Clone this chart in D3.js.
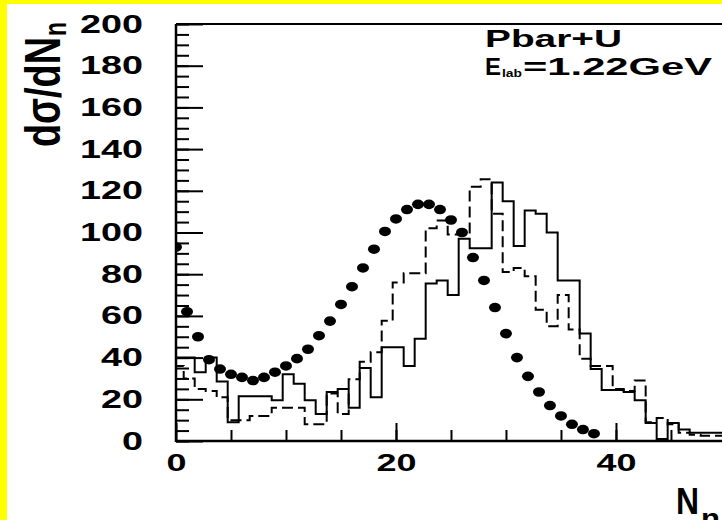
<!DOCTYPE html>
<html>
<head>
<meta charset="utf-8">
<script src="https://cdn.jsdelivr.net/npm/d3@7/dist/d3.min.js"></script>
<style>
body { margin: 0; background: #ffffff; }
svg { display: block; }
text { font-family: "Liberation Sans", Arial, sans-serif; font-weight: bold; fill: #000; }
</style>
</head>
<body>
<svg id="chart" width="722" height="520"></svg>
<script>
// measured points (filled circles), N = 0..38
var dotN = [0, 1, 2, 3, 4, 5, 6, 7, 8, 9, 10, 11, 12, 13, 14, 15, 16, 17, 18, 19,
            20, 21, 22, 23, 24, 25, 26, 27, 28, 29, 30, 31, 32, 33, 34, 35, 36, 37, 38];
var dotValues = [93, 62, 50, 39, 34.5, 32, 30.5, 29, 30.5, 33, 36, 39.5, 44, 50.5, 57.5, 65.5, 74, 83, 92, 100.5,
                 106.5, 111, 113.5, 113.5, 111, 106, 100, 88, 77, 64, 51.5, 40, 31, 23.5, 17, 12, 8, 5.5, 3.5];

// histogram bins
var binN = [0, 1, 2, 3, 4, 5, 6, 7, 8, 9, 10, 11, 12, 13, 14, 15, 16, 17, 18, 19,
            20, 21, 22, 23, 24, 25, 26, 27, 28, 29, 30, 31, 32, 33, 34, 35, 36, 37, 38, 39,
            40, 41, 42, 43, 44, 45, 46, 47, 48, 49];
var solidValues = [40, 40, 33, 40, 28.5, 9, 21.5, 21.5, 21.5, 19.5, 32, 27.5, 19.5, 13, 23.5, 25, 16, 35, 21, 45,
                   45, 36, 49, 75.5, 77, 70, 97, 92.5, 92.5, 124, 115, 93.5, 110.5, 109, 100, 77, 77, 51.5, 34.5, 24.5,
                   24.5, 23.5, 19.5, 8.6, 1, 8.6, 5.5, 4, 4, 4];
var dashedValues = [36, 30, 25, 24, 21, 10, 10, 12, 12, 16, 16, 16, 8, 8, 22.8, 13, 29.6, 38, 42.6, 57.7,
                    76, 80.5, 80.5, 102, 105.7, 99, 99, 122, 125.5, 109, 81, 83, 79, 63, 55, 70, 53.5, 39.5, 36, 36,
                    25, 24, 29, 9, 11, 8, 4, 3, 2.5, 2.5];

var yMajorTicks = [0, 20, 40, 60, 80, 100, 120, 140, 160, 180, 200];
var xMajorTicks = [0, 20, 40];

var svg = d3.select("#chart");

// yellow frame round the picture
svg.append("rect").attr("x", 0).attr("y", 0).attr("width", 722).attr("height", 520).attr("fill", "#ffff00");
svg.append("rect").attr("x", 7).attr("y", 4).attr("width", 715).attr("height", 516).attr("fill", "#ffffff");

var plotLeft = 176, plotRight = 722, plotTop = 24, plotBottom = 441;

var x = d3.scaleLinear().domain([0, 49.64]).range([plotLeft, plotRight]);
var y = d3.scaleLinear().domain([0, 200]).range([plotBottom, plotTop]);

// histogram bin k covers [k - 0.3, k + 0.7]
var binLowShift = -0.3;

svg.append("clipPath").attr("id", "plotclip")
    .append("rect").attr("x", plotLeft).attr("y", plotTop - 2)
    .attr("width", plotRight - plotLeft).attr("height", plotBottom - plotTop + 2);

var plot = svg.append("g").attr("clip-path", "url(#plotclip)");

function stepPoints(values) {
    var pts = [];
    for (var i = 0; i < binN.length; i++) {
        pts.push([binN[i] + binLowShift, values[i]]);
    }
    pts.push([binN[binN.length - 1] + binLowShift + 1, values[values.length - 1]]);
    return pts;
}

var stepLine = d3.line()
    .x(function (d) { return x(d[0]); })
    .y(function (d) { return y(d[1]); })
    .curve(d3.curveStepAfter);

plot.append("path").attr("d", stepLine(stepPoints(dashedValues)))
    .attr("fill", "none").attr("stroke", "#000").attr("stroke-width", 2)
    .attr("stroke-dasharray", "11,5");

plot.append("path").attr("d", stepLine(stepPoints(solidValues)))
    .attr("fill", "none").attr("stroke", "#000").attr("stroke-width", 2);

plot.selectAll("ellipse.dot").data(dotN).enter().append("ellipse")
    .attr("class", "dot")
    .attr("cx", function (d) { return x(d); })
    .attr("cy", function (d, i) { return y(dotValues[i]); })
    .attr("rx", 6).attr("ry", 4.8)
    .attr("fill", "#000");

// axes: ticks point into the frame
var yMinor = d3.axisLeft(y).tickValues(d3.range(0, 201, 5)).tickSize(-13).tickFormat("");
var yMajor = d3.axisLeft(y).tickValues(yMajorTicks).tickSize(-27).tickPadding(33);
var xMinor = d3.axisBottom(x).tickValues(d3.range(5, 50, 5)).tickSize(-11).tickFormat("");
var xMajor = d3.axisBottom(x).tickValues(xMajorTicks).tickSize(-18).tickPadding(13);

function styleAxis(g) {
    g.select(".domain").remove();
    g.selectAll("line").attr("stroke", "#000").attr("stroke-width", 2);
}

svg.append("g").attr("transform", "translate(" + plotLeft + ",0)").call(yMinor).call(styleAxis);
var gy = svg.append("g").attr("transform", "translate(" + plotLeft + ",0)").call(yMajor).call(styleAxis);
gy.selectAll("text").attr("font-size", 25).attr("font-family", null)
    .attr("textLength", function (d) { return String(d).length * 21; })
    .attr("lengthAdjust", "spacingAndGlyphs");

svg.append("g").attr("transform", "translate(0," + plotBottom + ")").call(xMinor).call(styleAxis);
var gx = svg.append("g").attr("transform", "translate(0," + plotBottom + ")").call(xMajor).call(styleAxis);
gx.selectAll("text").attr("font-size", 24).attr("font-family", null)
    .attr("textLength", function (d) { return String(d).length * 20; })
    .attr("lengthAdjust", "spacingAndGlyphs");

// frame lines
svg.append("line").attr("x1", plotLeft).attr("x2", plotLeft).attr("y1", plotTop).attr("y2", plotBottom + 1)
    .attr("stroke", "#000").attr("stroke-width", 2.5);
svg.append("line").attr("x1", plotLeft).attr("x2", plotRight).attr("y1", plotBottom).attr("y2", plotBottom)
    .attr("stroke", "#000").attr("stroke-width", 2.5);
svg.append("line").attr("x1", plotLeft).attr("x2", plotRight).attr("y1", plotTop).attr("y2", plotTop)
    .attr("stroke", "#000").attr("stroke-width", 2);

// y title  dσ/dN_n (rotated)
svg.append("text")
    .attr("transform", "translate(60,147) rotate(-90) scale(1,1.55)")
    .attr("font-size", 32)
    .attr("textLength", 110).attr("lengthAdjust", "spacingAndGlyphs")
    .text("dσ/dN");
svg.append("text")
    .attr("transform", "translate(66,36) rotate(-90) scale(1,1.55)")
    .attr("font-size", 20)
    .attr("textLength", 14).attr("lengthAdjust", "spacingAndGlyphs")
    .text("n");

// x title N_n, cut by the right edge as in the picture
svg.append("text").attr("x", 676).attr("y", 514).attr("font-size", 36)
    .attr("textLength", 23).attr("lengthAdjust", "spacingAndGlyphs").text("N");
svg.append("text").attr("x", 701).attr("y", 527).attr("font-size", 26)
    .attr("textLength", 19).attr("lengthAdjust", "spacingAndGlyphs").text("n");

// label top right
svg.append("text").attr("x", 485).attr("y", 47).attr("font-size", 24)
    .attr("textLength", 137).attr("lengthAdjust", "spacingAndGlyphs").text("Pbar+U");
svg.append("text").attr("x", 485).attr("y", 75).attr("font-size", 24)
    .attr("textLength", 16).attr("lengthAdjust", "spacingAndGlyphs").text("E");
svg.append("text").attr("x", 502).attr("y", 77).attr("font-size", 11)
    .attr("textLength", 20).attr("lengthAdjust", "spacingAndGlyphs").text("lab");
svg.append("text").attr("x", 523).attr("y", 75).attr("font-size", 24)
    .attr("textLength", 189).attr("lengthAdjust", "spacingAndGlyphs").text("=1.22GeV");
</script>
</body>
</html>
